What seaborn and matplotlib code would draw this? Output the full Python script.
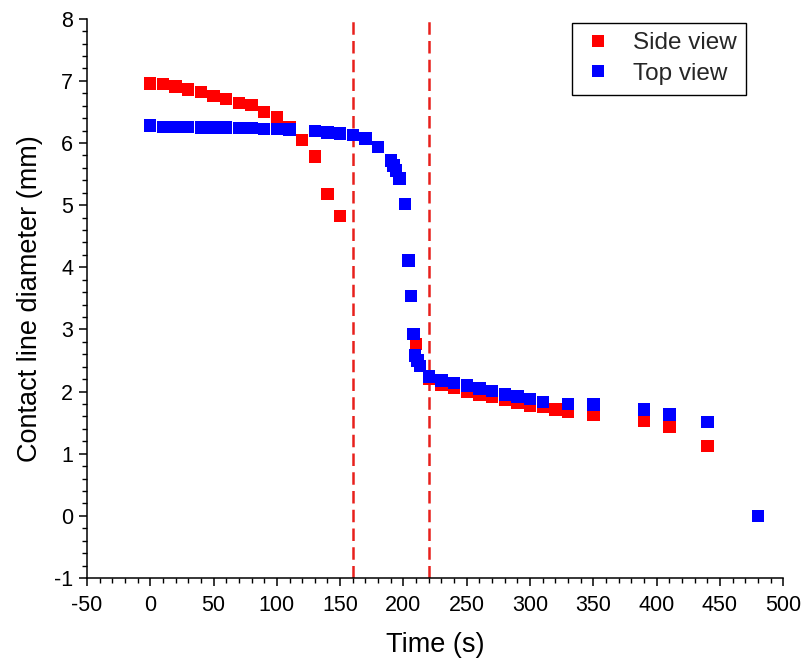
import matplotlib
matplotlib.use("Agg")
import matplotlib.pyplot as plt
from matplotlib.ticker import MultipleLocator
import pandas as pd
import seaborn as sns

# side view (red)
side_t = [0, 10, 20, 30, 40, 50, 60, 70, 80, 90, 100, 110, 120, 130, 140, 150,
          210, 220, 230, 240, 250, 260, 270, 280, 290, 300, 310, 320, 330,
          350, 390, 410, 440]
side_d = [6.96, 6.95, 6.91, 6.86, 6.82, 6.76, 6.71, 6.64, 6.61, 6.50, 6.41, 6.25,
          6.05, 5.78, 5.18, 4.83,
          2.77, 2.20, 2.11, 2.06, 2.00, 1.95, 1.91, 1.87, 1.82, 1.77, 1.75, 1.71, 1.68,
          1.62, 1.53, 1.43, 1.12]

# top view (blue)
top_t = [0, 10, 20, 30, 40, 50, 60, 70, 80, 90, 100, 110, 130, 140, 150, 160,
         170, 180, 190, 192, 194, 197, 201, 204, 206, 208, 209, 211, 213,
         220, 230, 240, 250, 260, 270, 280, 290, 300, 310, 330, 350, 390, 410,
         440, 480]
top_d = [6.28, 6.26, 6.26, 6.26, 6.25, 6.25, 6.25, 6.24, 6.24, 6.23, 6.23, 6.22,
         6.19, 6.17, 6.15, 6.13,
         6.07, 5.94, 5.72, 5.64, 5.56, 5.43, 5.02, 4.11, 3.54, 2.93, 2.58, 2.50, 2.41,
         2.24, 2.18, 2.14, 2.10, 2.05, 2.01, 1.95, 1.92, 1.88, 1.83, 1.80, 1.79, 1.71,
         1.63, 1.51, 0.0]

stage_lines = [160, 220]

df = pd.concat([
    pd.DataFrame({"time": side_t, "diameter": side_d, "view": "Side view"}),
    pd.DataFrame({"time": top_t, "diameter": top_d, "view": "Top view"}),
])

sns.set_style("ticks")
plt.rcParams["font.family"] = ["Liberation Sans", "DejaVu Sans"]
plt.rcParams["axes.unicode_minus"] = False

fig = plt.figure(figsize=(8.05, 6.69), dpi=100)
ax = fig.add_axes([0.108, 0.136, 0.865, 0.836])

sns.scatterplot(
    data=df, x="time", y="diameter", hue="view",
    palette={"Side view": "#ff0000", "Top view": "#0000ff"},
    marker="s", s=80, linewidth=0, ax=ax, zorder=3,
)

for t in stage_lines:
    ax.axvline(t, color="#e8201c", linestyle=(0, (5, 2.5)), linewidth=1.8, zorder=2)

ax.set_xlim(-50, 500)
ax.set_ylim(-1, 8)
ax.xaxis.set_major_locator(MultipleLocator(50))
ax.xaxis.set_minor_locator(MultipleLocator(10))
ax.yaxis.set_major_locator(MultipleLocator(1))
ax.yaxis.set_minor_locator(MultipleLocator(0.2))
ax.tick_params(which="major", length=6, width=1.1, labelsize=15.5,
               color="black", labelcolor="black", pad=4)
ax.tick_params(axis="x", which="major", pad=6)
ax.tick_params(which="minor", length=3.5, width=1.0, color="black")
for side in ["left", "bottom"]:
    ax.spines[side].set_linewidth(1.1)
    ax.spines[side].set_color("black")
sns.despine(ax=ax)

ax.set_xlabel("Time (s)", fontsize=19.5, labelpad=12, color="black")
ax.set_ylabel("Contact line diameter (mm)", fontsize=19.5, labelpad=8, color="black")

leg = ax.legend(loc="upper right", fontsize=17.5, frameon=True, fancybox=False,
                edgecolor="black", framealpha=1, markerscale=1.0,
                borderpad=0.4, handletextpad=0.8, handlelength=1.3,
                labelspacing=0.35, borderaxespad=0,
                bbox_to_anchor=(0.947, 0.993))
leg.get_frame().set_linewidth(1.0)

fig.savefig("out.png", dpi=100)
